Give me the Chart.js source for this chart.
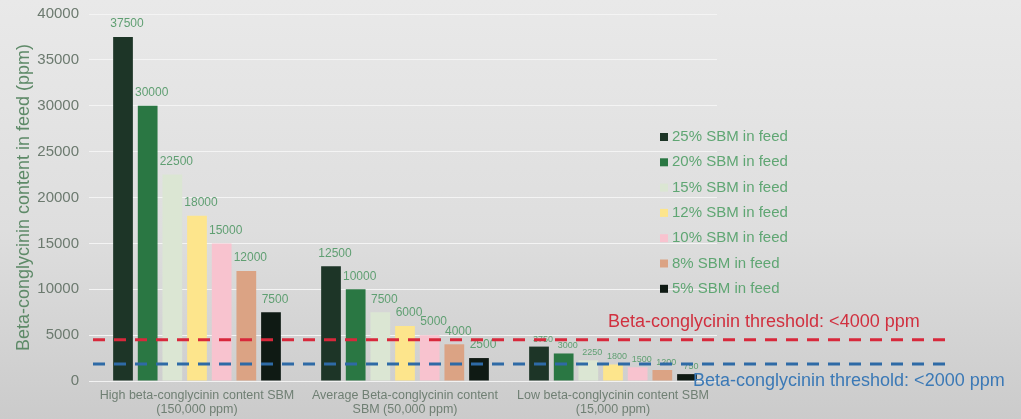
<!DOCTYPE html>
<html>
<head>
<meta charset="utf-8">
<script src="https://cdn.jsdelivr.net/npm/chart.js@4"></script>
<style>
  html, body { margin: 0; padding: 0; }
  body { width: 1021px; height: 419px; background: linear-gradient(180deg, #e9e9e9 0%, #dedede 55%, #cbcbcb 100%); overflow: hidden; }
  #wrap { width: 1021px; height: 419px; }
</style>
</head>
<body>
<div id="wrap"><canvas id="myChart" width="1021" height="419"></canvas></div>
<script>
let categories = [
  ["High beta-conglycinin content SBM", "(150,000 ppm)"],
  ["Average Beta-conglycinin content", "SBM (50,000 ppm)"],
  ["Low beta-conglycinin content SBM", "(15,000 ppm)"]
];
let seriesNames = ["25% SBM in feed", "20% SBM in feed", "15% SBM in feed", "12% SBM in feed", "10% SBM in feed", "8% SBM in feed", "5% SBM in feed"];
let sbm25 = [37500, 12500, 3750];
let sbm20 = [30000, 10000, 3000];
let sbm15 = [22500, 7500, 2250];
let sbm12 = [18000, 6000, 1800];
let sbm10 = [15000, 5000, 1500];
let sbm8 = [12000, 4000, 1200];
let sbm5 = [7500, 2500, 750];
let seriesColors = ["#1d3527", "#2a7743", "#dbe6d3", "#fde58c", "#f8c3cf", "#dba384", "#0f1a14"];
let yTicks = [0, 5000, 10000, 15000, 20000, 25000, 30000, 35000, 40000];
let redThreshold = 4500;
let blueThreshold = 1850;
let redText = "Beta-conglycinin threshold: <4000 ppm";
let blueText = "Beta-conglycinin threshold: <2000 ppm";

let allSeries = [sbm25, sbm20, sbm15, sbm12, sbm10, sbm8, sbm5];
let datasets = allSeries.map((vals, i) => {
  return {
    label: seriesNames[i],
    data: vals,
    backgroundColor: seriesColors[i],
    borderWidth: 0,
    categoryPercentage: 0.83,
    barPercentage: 0.8
  };
});

// value labels over each bar
let barLabels = {
  id: "barLabels",
  afterDatasetsDraw(chart) {
    let ctx = chart.ctx;
    ctx.save();
    ctx.fillStyle = "#5f9f72";
    ctx.textAlign = "center";
    ctx.textBaseline = "bottom";
    chart.data.datasets.forEach((ds, i) => {
      let meta = chart.getDatasetMeta(i);
      meta.data.forEach((bar, j) => {
        ctx.font = (j == 2 ? "9px" : "12px") + " 'Liberation Sans', Arial, sans-serif";
        ctx.fillText(ds.data[j], bar.x + 4, bar.y - (j == 2 ? 3 : 7));
      });
    });
    ctx.restore();
  }
};

// dashed threshold lines and their texts
let thresholds = {
  id: "thresholds",
  afterDatasetsDraw(chart) {
    let ctx = chart.ctx;
    let y = chart.scales.y;
    let left = chart.chartArea.left;
    ctx.save();
    ctx.lineWidth = 3;
    ctx.setLineDash([12, 9]);
    let yr = y.getPixelForValue(redThreshold);
    ctx.strokeStyle = "#d8283b";
    ctx.beginPath();
    ctx.moveTo(left, yr);
    ctx.lineTo(952, yr);
    ctx.stroke();
    let yb = y.getPixelForValue(blueThreshold);
    ctx.strokeStyle = "#2e6aa6";
    ctx.beginPath();
    ctx.moveTo(left, yb);
    ctx.lineTo(952, yb);
    ctx.stroke();
    ctx.setLineDash([]);
    ctx.font = "18px 'Liberation Sans', Arial, sans-serif";
    ctx.textBaseline = "middle";
    ctx.fillStyle = "#d1303f";
    ctx.fillText(redText, 608, yr - 18);
    ctx.fillStyle = "#3b79b6";
    ctx.fillText(blueText, 693, y.getPixelForValue(0));
    ctx.restore();
  }
};

// legend sitting inside the plot on the right
let sideLegend = {
  id: "sideLegend",
  afterDraw(chart) {
    let ctx = chart.ctx;
    ctx.save();
    ctx.font = "15px 'Liberation Sans', Arial, sans-serif";
    ctx.textBaseline = "middle";
    seriesNames.forEach((name, i) => {
      let yy = 137 + i * 25.3;
      ctx.fillStyle = seriesColors[i];
      ctx.fillRect(660, yy - 4, 8, 8);
      ctx.fillStyle = "#5fa673";
      ctx.fillText(name, 672, yy);
    });
    ctx.restore();
  }
};

let ctx = document.getElementById("myChart").getContext("2d");
let myChart = new Chart(ctx, {
  type: "bar",
  data: {
    labels: categories,
    datasets: datasets
  },
  options: {
    responsive: false,
    animation: false,
    layout: { padding: { top: 14, right: 304, left: 0, bottom: 0 } },
    plugins: {
      legend: { display: false },
      tooltip: { enabled: false }
    },
    scales: {
      x: {
        grid: { display: false },
        border: { color: "#f2f2f2", width: 1 },
        ticks: {
          color: "#6f7f73",
          font: { size: 12.5, family: "'Liberation Sans', Arial, sans-serif", lineHeight: 1.1 },
          maxRotation: 0,
          autoSkip: false,
          padding: 0
        },
        afterFit(scale) { scale.height = 38; }
      },
      y: {
        min: 0,
        max: 40000,
        afterBuildTicks(scale) { scale.ticks = yTicks.map((v) => ({ value: v })); },
        grid: { color: "#f4f4f4", lineWidth: 1, tickLength: 4 },
        border: { display: false },
        ticks: {
          color: "#6c7a6f",
          font: { size: 15, family: "'Liberation Sans', Arial, sans-serif" },
          padding: 10,
          callback: (v) => v
        },
        title: {
          display: true,
          text: "Beta-conglycinin content in feed (ppm)",
          color: "#5e8a68",
          font: { size: 18, family: "'Liberation Sans', Arial, sans-serif" },
          padding: { top: 13, bottom: 0 }
        },
        afterFit(scale) {
          scale.width = 93;
          scale.paddingTop = 0;
          scale.paddingBottom = 0;
        }
      }
    }
  },
  plugins: [barLabels, thresholds, sideLegend]
});
</script>
</body>
</html>
